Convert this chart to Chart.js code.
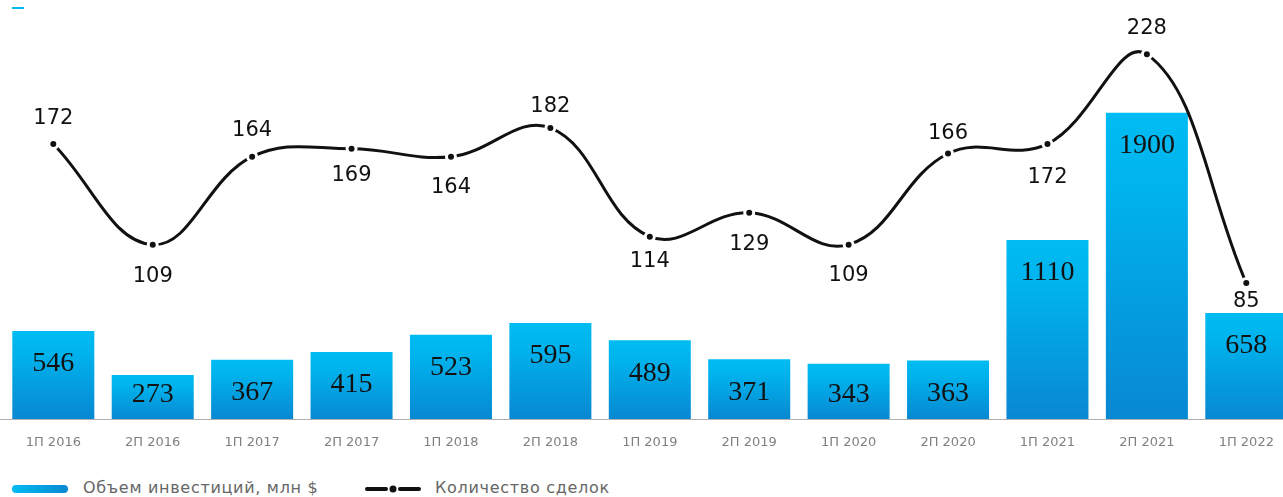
<!DOCTYPE html>
<html>
<head>
<meta charset="utf-8">
<script src="https://cdn.jsdelivr.net/npm/chart.js@4/dist/chart.umd.min.js"></script>
<style>
  html, body { margin: 0; padding: 0; background: #fff; overflow: hidden; }
  body { width: 1283px; height: 497px; position: relative; }
  #wrap { position: absolute; left: 0; top: 0; width: 1300px; height: 460px; }
  .dash { position: absolute; left: 12px; top: 7px; width: 12px; height: 2px; background: #00bcf2; }
  .legend { position: absolute; top: 478px; left: 0; height: 20px; font-family: "DejaVu Sans", sans-serif; font-size: 16px; letter-spacing: 0.7px; color: #666; }
  .legend .item { position: absolute; top: 0; white-space: nowrap; line-height: 20px; }
  .legend .pill { position: absolute; top: 7px; width: 56px; height: 8px; border-radius: 4px; background: linear-gradient(to right, #00bcf2, #0a88d2); }
</style>
</head>
<body>
<div id="wrap"><canvas id="investChart" width="1300" height="460"></canvas></div>
<div class="dash"></div>
<div class="legend">
  <span class="pill" style="left:12px"></span>
  <span class="item" style="left:83px">Объем инвестиций, млн $</span>
  <svg style="position:absolute;left:365px;top:4px" width="56" height="14">
    <line x1="2" y1="7" x2="21" y2="7" stroke="#111" stroke-width="4" stroke-linecap="round"/>
    <circle cx="28" cy="7" r="3.5" fill="#111"/>
    <line x1="35" y1="7" x2="54" y2="7" stroke="#111" stroke-width="4" stroke-linecap="round"/>
  </svg>
  <span class="item" style="left:435px">Количество сделок</span>
</div>
<script>
// half-year periods
const periods = ['1П 2016', '2П 2016', '1П 2017', '2П 2017', '1П 2018', '2П 2018', '1П 2019',
                 '2П 2019', '1П 2020', '2П 2020', '1П 2021', '2П 2021', '1П 2022'];
// investment volume, mln $
const investments = [546, 273, 367, 415, 523, 595, 489, 371, 343, 363, 1110, 1900, 658];
// number of deals
const deals = [172, 109, 164, 169, 164, 182, 114, 129, 109, 166, 172, 228, 85];

// label offsets for the deal counts (negative = above the point)
const dealLabelOffset = [-25, 32, -26, 27, 31, -21, 25, 32, 31, -20, 34, -26, 18];

function barGradient(context) {
    const chart = context.chart;
    const area = chart.chartArea;
    const yScale = chart.scales.y;
    if (!area || !yScale) return '#00b4ec';
    const top = yScale.getPixelForValue(investments[context.dataIndex]);
    const bottom = yScale.getPixelForValue(0);
    const g = chart.ctx.createLinearGradient(0, top, 0, bottom);
    g.addColorStop(0, '#00bcf2');
    g.addColorStop(0.25, '#00b3ec');
    g.addColorStop(1, '#0888d2');
    return g;
}

const labelsPlugin = {
    id: 'valueLabels',
    afterDatasetsDraw(chart) {
        const ctx = chart.ctx;
        ctx.save();
        ctx.textAlign = 'center';
        ctx.textBaseline = 'middle';

        // bar values
        ctx.font = '28px "Liberation Serif", serif';
        ctx.fillStyle = '#111';
        chart.getDatasetMeta(0).data.forEach((bar, i) => {
            const y = Math.min(bar.y + 33, bar.base - 24);
            ctx.fillText(String(investments[i]), bar.x, y);
        });

        // deal counts
        ctx.font = '21px "DejaVu Sans", sans-serif';
        ctx.fillStyle = '#111';
        chart.getDatasetMeta(1).data.forEach((pt, i) => {
            ctx.fillText(String(deals[i]), pt.x, pt.y + dealLabelOffset[i]);
        });
        ctx.restore();
    }
};

const baseLinePlugin = {
    id: 'baseLine',
    beforeDatasetsDraw(chart) {
        const ctx = chart.ctx;
        const y = Math.round(chart.scales.y.getPixelForValue(0)) + 0.5;
        ctx.save();
        ctx.strokeStyle = '#b0b0b0';
        ctx.lineWidth = 1;
        ctx.beginPath();
        ctx.moveTo(0, y);
        ctx.lineTo(chart.width, y);
        ctx.stroke();
        ctx.restore();
    }
};

new Chart(document.getElementById('investChart'), {
    type: 'bar',
    data: {
        labels: periods,
        datasets: [{
            type: 'bar',
            label: 'Объем инвестиций, млн $',
            data: investments,
            yAxisID: 'y',
            backgroundColor: barGradient,
            categoryPercentage: 1,
            barPercentage: 0.825,
            order: 2
        }, {
            type: 'line',
            label: 'Количество сделок',
            data: deals,
            yAxisID: 'y1',
            borderColor: '#111',
            borderWidth: 3,
            tension: 0.4,
            pointRadius: 4.5,
            pointHoverRadius: 4.5,
            pointBackgroundColor: '#111',
            pointBorderColor: '#fff',
            pointBorderWidth: 3,
            clip: false,
            order: 1
        }]
    },
    options: {
        responsive: false,
        animation: false,
        devicePixelRatio: 1,
        layout: { autoPadding: false, padding: { left: 3.6, right: 4, top: 0, bottom: 0 } },
        scales: {
            x: {
                grid: { display: false, drawTicks: false },
                border: { display: false },
                ticks: {
                    color: '#808080',
                    font: { family: '"DejaVu Sans", sans-serif', size: 13 },
                    padding: 16,
                    maxRotation: 0,
                    autoSkip: false
                },
                afterFit(scale) { scale.height = 41; }
            },
            y: { display: false, min: 0, max: 2600 },
            y1: { display: false, min: 0, max: 262 }
        },
        plugins: {
            legend: { display: false },
            tooltip: { enabled: false }
        }
    },
    plugins: [baseLinePlugin, labelsPlugin]
});
</script>
</body>
</html>
